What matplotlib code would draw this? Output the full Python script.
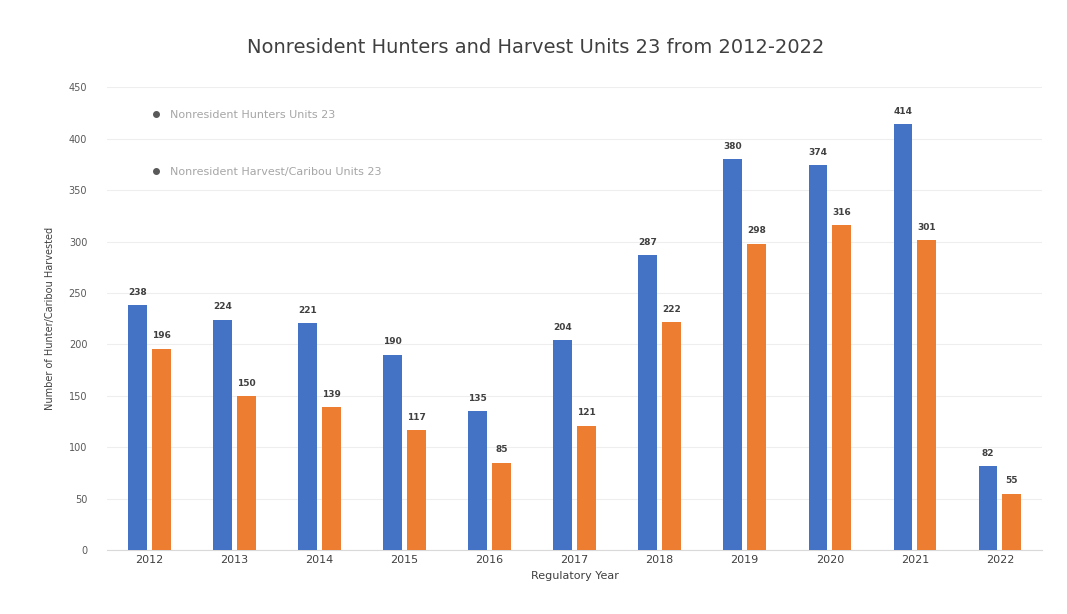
import matplotlib
matplotlib.use('Agg')
import matplotlib.pyplot as plt
from matplotlib.lines import Line2D
import numpy as np

years = ['2012', '2013', '2014', '2015', '2016', '2017', '2018', '2019', '2020', '2021', '2022']
hunters = [238, 224, 221, 190, 135, 204, 287, 380, 374, 414, 82]
harvest = [196, 150, 139, 117, 85, 121, 222, 298, 316, 301, 55]
series_names = ['Nonresident Hunters Units 23', 'Nonresident Harvest/Caribou Units 23']
yticks = [0, 50, 100, 150, 200, 250, 300, 350, 400, 450]

blue = '#4472C4'
orange = '#ED7D31'

fig = plt.figure(figsize=(10.67, 6.14), dpi=100)
ax = fig.add_axes([0.1, 0.104, 0.877, 0.754])

x = np.arange(len(years))
w = 0.22
b1 = ax.bar(x - 0.14, hunters, w, color=blue, zorder=3)
b2 = ax.bar(x + 0.14, harvest, w, color=orange, zorder=3)

for bars, vals in [(b1, hunters), (b2, harvest)]:
    for r, v in zip(bars, vals):
        ax.text(r.get_x() + r.get_width() / 2, v + 8, str(v), ha='center', va='bottom',
                fontsize=6.5, color='#404040', fontweight='bold')

ax.set_xlim(-0.5, len(years) - 0.5)
ax.set_ylim(0, 450)
ax.set_yticks(yticks)
ax.set_yticklabels([str(t) for t in yticks], fontsize=7, color='#595959')
ax.set_xticks(x)
ax.set_xticklabels(years, fontsize=8, color='#404040')
ax.tick_params(axis='both', length=0)
ax.tick_params(axis='y', pad=14)
ax.grid(axis='y', color='#eeeeee', linewidth=0.8, zorder=0)
for s in ['top', 'right', 'left']:
    ax.spines[s].set_visible(False)
ax.spines['bottom'].set_color('#d9d9d9')

fig.text(0.502, 0.922, 'Nonresident Hunters and Harvest Units 23 from 2012-2022', fontsize=14,
         color='#404040', ha='center', va='center')
ax.set_xlabel('Regulatory Year', fontsize=8, color='#404040')
ax.set_ylabel('Number of Hunter/Caribou Harvested', fontsize=7, color='#404040', labelpad=10)

handles = [Line2D([0], [0], marker='o', color='#bfbfbf', markerfacecolor='#595959',
                  markeredgecolor='#595959', markersize=4, linewidth=0)
           for _ in series_names]
leg = ax.legend(handles, series_names, loc='upper left', bbox_to_anchor=(0.03, 0.972),
                frameon=False, fontsize=8, labelspacing=4.2, handletextpad=0.3)
for t in leg.get_texts():
    t.set_color('#a6a6a6')

fig.savefig('out.png', dpi=100)
